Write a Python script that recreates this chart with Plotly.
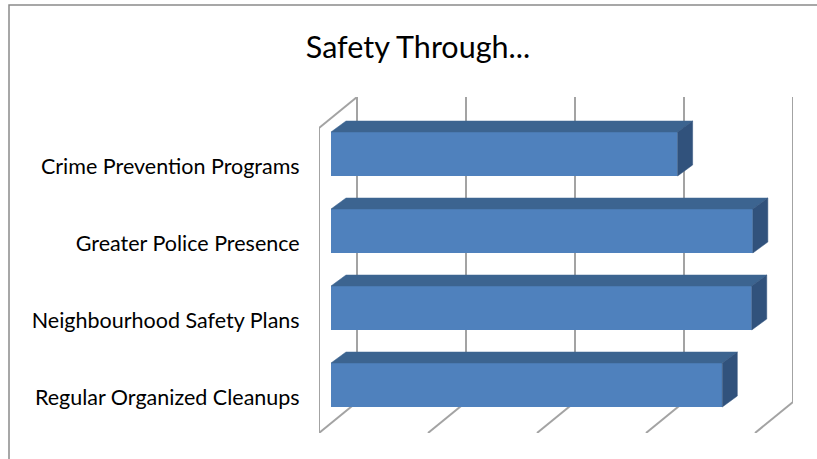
import plotly.graph_objects as go

categories = ["Regular Organized Cleanups", "Neighbourhood Safety Plans",
              "Greater Police Presence", "Crime Prevention Programs"]
values = [3.59, 3.86, 3.87, 3.18]
x_ticks = [0, 1, 2, 3, 4]
title_text = "Safety Through..."

W, H = 817, 459
PL, PR, PT, PB = 319, 793, 97, 433      # plot-area pixels
UX = 109.0                               # pixels per x unit
UY = 77.0                                # pixels per category
WALL_DX, WALL_DY = 38 / UX, 31 / UY      # wall depth in data units
BAR_DX, BAR_DY = 15 / UX, 11 / UY        # bar depth in data units
BASE = 12 / UX
BAR_W = 44 / UY
BAR_OFF = -9.5 / UY
Y_MIN = -(PB - 397.5) / UY
Y_MAX = 3 + (166.5 - PT) / UY
X_MAX = (PR - PL) / UX

FRONT, TOP, SIDE = "#4f81bd", "#3c6490", "#31527c"
GRID = "#a3a3a3"
FONT = "Lato"

fig = go.Figure()

# Chart walls and floor lines, kept behind the bars
grid_shapes = []
def seg(x0, y0, x1, y1):
    grid_shapes.append(dict(type="line", xref="x", yref="y", layer="below",
                            x0=x0, y0=y0, x1=x1, y1=y1,
                            line=dict(color=GRID, width=2)))
for t in x_ticks:
    seg(t, Y_MIN, t + WALL_DX, Y_MIN + WALL_DY)
    seg(t + WALL_DX, Y_MIN + WALL_DY, t + WALL_DX, Y_MAX)
seg(0, Y_MIN, 0, Y_MAX - WALL_DY)
seg(0, Y_MAX - WALL_DY, WALL_DX, Y_MAX)

# Depth faces of each bar
for i, v in enumerate(values):
    x0, x1 = BASE, BASE + v
    yb = i + BAR_OFF
    yt = yb + BAR_W
    fig.add_trace(go.Scatter(
        x=[x0, x1, x1 + BAR_DX, x0 + BAR_DX, x0],
        y=[yt, yt, yt + BAR_DY, yt + BAR_DY, yt],
        mode="lines", fill="toself", fillcolor=TOP, line=dict(color=TOP, width=0.5),
        showlegend=False, hoverinfo="skip"))
    fig.add_trace(go.Scatter(
        x=[x1, x1 + BAR_DX, x1 + BAR_DX, x1, x1],
        y=[yb, yb + BAR_DY, yt + BAR_DY, yt, yb],
        mode="lines", fill="toself", fillcolor=SIDE, line=dict(color=SIDE, width=0.5),
        showlegend=False, hoverinfo="skip"))

fig.add_trace(go.Bar(
    y=list(range(len(categories))), x=values, base=BASE, orientation="h",
    width=BAR_W, offset=BAR_OFF, marker=dict(color=FRONT, line=dict(width=0)),
    showlegend=False))

frame = dict(type="path", xref="paper", yref="paper",
             path=f"M {(9 - PL) / (PR - PL)} {(PB - H) / (PB - PT)} "
                  f"L {(9 - PL) / (PR - PL)} {(PB - 5) / (PB - PT)} "
                  f"L {(W - PL) / (PR - PL)} {(PB - 5) / (PB - PT)}",
             line=dict(color="#8a8a8a", width=1.5))

fig.update_layout(
    width=W, height=H, autosize=False,
    margin=dict(l=PL, r=W - PR, t=PT, b=H - PB, pad=0),
    paper_bgcolor="white", plot_bgcolor="rgba(0,0,0,0)",
    barmode="overlay",
    title=dict(text=title_text, x=418 / W, xanchor="center", xref="container",
               y=1 - 47 / H, yanchor="middle", yref="container",
               font=dict(family=FONT, size=30.5, color="#000000")),
    xaxis=dict(range=[0, X_MAX], showgrid=False, zeroline=False, showticklabels=False,
               ticks="", showline=False, fixedrange=True),
    yaxis=dict(range=[Y_MIN, Y_MAX], showgrid=False, zeroline=False, showline=False,
               tickmode="array", tickvals=list(range(len(categories))), ticktext=categories,
               ticks="outside", ticklen=14, tickcolor="rgba(0,0,0,0)", tickwidth=1,
               tickfont=dict(family=FONT, size=21.5, color="#000000"),
               fixedrange=True, automargin=False),
    shapes=grid_shapes + [frame],
)

fig.write_html("out.html", config=dict(displayModeBar=False),
               post_script="document.body.style.margin='0';document.documentElement.style.overflow='hidden';window.dispatchEvent(new Event('resize'));")
